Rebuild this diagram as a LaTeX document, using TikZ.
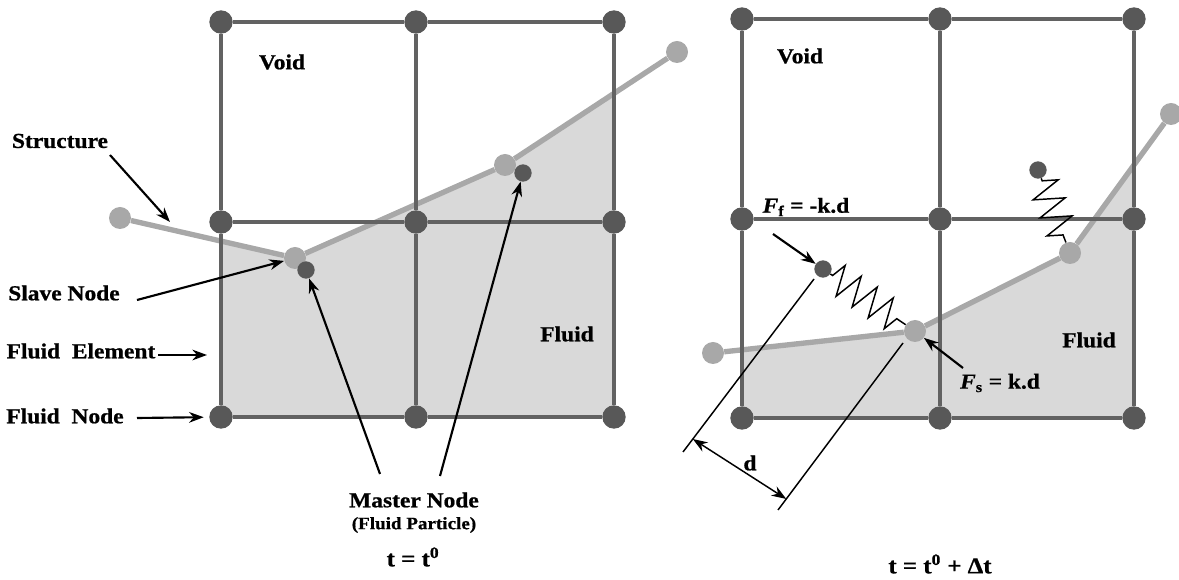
\documentclass[tikz,border=0pt]{standalone}
\usepackage{fontspec}
\newfontfamily\lblfont{Liberation Serif}[FakeStretch=1.1,
  BoldFeatures={FakeBold=0.8}, BoldItalicFeatures={FakeBold=0.8}]
\usepackage{tikz}
\usetikzlibrary{
    arrows.meta,
    calc,
    decorations.pathmorphing,
    backgrounds
}
\tikzset{
  gridline/.style = {GridGray, line width=3.4pt},
  strline/.style  = {StrGray, line width=4pt},
  gnode/.style    = {circle, fill=NodeGray, inner sep=0pt, minimum size=17.5pt},
  snode/.style    = {circle, fill=StrGray, inner sep=0pt, minimum size=16.5pt},
  mnode/.style    = {circle, fill=NodeGray, inner sep=0pt, minimum size=13pt},
  lbl/.style      = {inner sep=0pt, font=\lblfont\fontsize{16}{19}\selectfont\bfseries},
  slbl/.style     = {inner sep=0pt, font=\lblfont\fontsize{13}{15}\selectfont\bfseries},
  tlbl/.style     = {inner sep=0pt, font=\lblfont\fontsize{17}{20}\selectfont\bfseries},
  arr/.style      = {-{Stealth[length=11pt,width=8pt]}, line width=1.6pt},
  dimline/.style  = {line width=1.1pt},
  spring/.style   = {line width=1.1pt, decorate,
                     decoration={zigzag, amplitude=11.5pt, segment length=14.5pt,
                                 pre length=2pt, post length=5pt}}
}
\definecolor{GridGray}{RGB}{98,98,98}
\definecolor{NodeGray}{RGB}{88,88,88}
\definecolor{StrGray}{RGB}{168,168,168}
\definecolor{FluidGray}{RGB}{217,217,217}

\begin{document}
\begin{tikzpicture}[x=0.75pt, y=-0.75pt]
\useasboundingbox (0,0) rectangle (1179,580);

% fluid nodes
\foreach \r/\y in {1/22,2/222,3/417}
  \foreach \c/\x in {1/221,2/416,3/614}
    \node[gnode] (gL\r\c) at (\x,\y) {};
\foreach \r/\y in {1/19,2/219,3/418}
  \foreach \c/\x in {1/742,2/940,3/1134}
    \node[gnode] (gR\r\c) at (\x,\y) {};

% structure and master nodes
\node[snode] (sL1) at (120,218) {};
\node[snode] (sL2) at (295,258) {};
\node[snode] (sL3) at (505,165) {};
\node[snode] (sL4) at (677,52) {};
\node[mnode] (mL1) at (306,270) {};
\node[mnode] (mL2) at (523,173) {};

\node[snode] (sR1) at (713,353) {};
\node[snode] (sR2) at (915,331) {};
\node[snode] (sR3) at (1070,253) {};
\node[snode] (sR4) at (1171,114) {};
\node[mnode] (mR1) at (823,269) {};
\node[mnode] (mR2) at (1038,170) {};

\begin{pgfonlayer}{background}
  \fill[FluidGray] (221,241) -- (sL2.center) -- (sL3.center) -- (614,93)
    -- (gL33.center) -- (gL31.center) -- cycle;
  \fill[FluidGray] (742,350) -- (sR2.center) -- (sR3.center) -- (1134,165)
    -- (gR33.center) -- (gR31.center) -- cycle;
  \draw[strline] (sL1) -- (sL2) -- (sL3) -- (sL4);
  \draw[strline] (sR1) -- (sR2) -- (sR3) -- (sR4);
  \foreach \g in {L,R} {
    \foreach \i in {1,2,3} {
      \draw[gridline] (g\g\i1) -- (g\g\i2) -- (g\g\i3);
      \draw[gridline] (g\g1\i) -- (g\g2\i) -- (g\g3\i);
    }
  }
\end{pgfonlayer}

% springs
\draw[spring] (mR1) -- (sR2);
\draw[spring] (mR2) -- (sR3);

% labels
\node[lbl] (lStruct) at (60,141) {Structure};
\node[lbl] (lSlave) at (64,293) {Slave Node};
\node[lbl] (lElem) at (81,351) {Fluid~~Element};
\node[lbl] (lFNode) at (65,416) {Fluid~~Node};
\node[lbl] (lVoidL) at (282,62) {Void};
\node[lbl] (lFluidL) at (567,334) {Fluid};
\node[lbl] (lMaster) at (414,500) {Master Node};
\node[slbl] (lPart) at (414,525) {(Fluid Particle)};
\node[tlbl] (lTime0) at (413,557) {t = t\textsuperscript{0}};
\node[lbl] (lVoidR) at (800,56) {Void};
\node[lbl] (lFluidR) at (1089,340) {Fluid};
\node[lbl] (lFf) at (806,207) {\textit{F}\textsubscript{f} = -k.d};
\node[lbl] (lFs) at (1000,383) {\textit{F}\textsubscript{s} = k.d};
\node[lbl] (lD) at (750,463) {d};
\node[tlbl] (lTime1) at (940,564) {t = t\textsuperscript{0} + Δt};

% arrows
\coordinate (tStruct) at (110,155);
\coordinate (hStruct) at (170,222);
\coordinate (tSlave) at (137,300);
\coordinate (tElem) at (158,355);
\coordinate (hElem) at (207,355);
\coordinate (tFNode) at (137,418);
\coordinate (tM1) at (380,474);
\coordinate (tM2) at (440,476);
\coordinate (tFf) at (773,234);
\coordinate (tFs) at (963,368);
\draw[arr] (tStruct) -- (hStruct);
\draw[arr] (tSlave) -- (sL2);
\draw[arr] (tElem) -- (hElem);
\draw[arr, shorten >=4pt] (tFNode) -- (gL31);
\draw[arr] (tM1) -- (mL1);
\draw[arr] (tM2) -- (mL2);
\draw[arr] (tFf) -- (mR1);
\draw[arr] (tFs) -- (sR2);

% distance d
\coordinate (d1a) at (814,279);
\coordinate (d1b) at (683,452);
\coordinate (d2a) at (903,343);
\coordinate (d2b) at (778,510);
\draw[dimline] (d1a) -- (d1b);
\draw[dimline] (d2a) -- (d2b);
\draw[dimline, {Stealth[length=11pt,width=8pt]}-{Stealth[length=11pt,width=8pt]}]
  ($(d1a)!0.925!(d1b)$) -- ($(d2a)!0.934!(d2b)$);
\end{tikzpicture}
\end{document}
